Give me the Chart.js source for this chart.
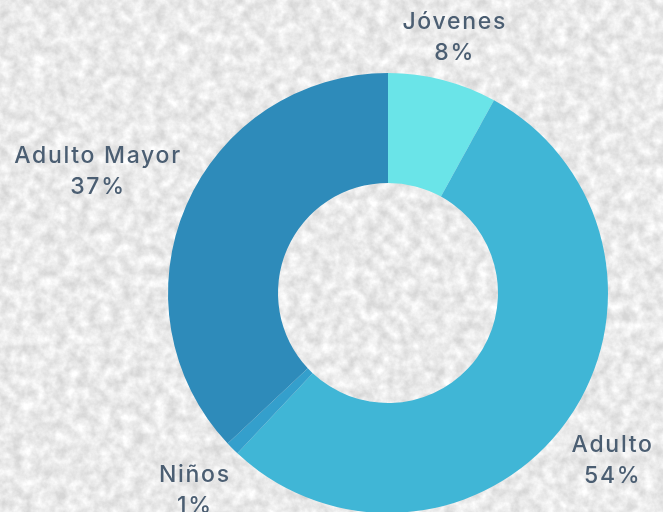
<!DOCTYPE html>
<html>
<head>
<meta charset="utf-8">
<script src="https://cdn.jsdelivr.net/npm/chart.js@4/dist/chart.umd.min.js"></script>
<style>
  html, body { margin: 0; padding: 0; overflow: hidden; width: 663px; height: 512px; }
  body {
    background-color: #e8e8e8;
    background-image: url("data:image/svg+xml;utf8,<svg xmlns='http://www.w3.org/2000/svg' width='663' height='512'><filter id='n'><feTurbulence type='fractalNoise' baseFrequency='0.09' numOctaves='4' seed='3'/><feColorMatrix type='matrix' values='0 0 0 0 1  0 0 0 0 1  0 0 0 0 1  0 0 0 -1.5 1.25'/></filter><rect width='100%' height='100%' fill='%23d6d6d6'/><rect width='100%' height='100%' filter='url(%23n)'/></svg>");
  }
  canvas { display: block; }
</style>
</head>
<body>
<canvas id="pieChart" width="663" height="540"></canvas>
<script>
// age groups, clockwise from the top
const groups = ['Jóvenes', 'Adulto', 'Niños', 'Adulto Mayor'];
const shares = [8, 54, 1, 37];
const sliceColors = ['#6ae4e8', '#40b6d6', '#349fcc', '#2e8bba'];

const textColor = '#4b5e72';
const labelFont = '500 23px Inter, sans-serif';

// draws "name / pct%" outside each slice
const outsideLabels = {
  id: 'outsideLabels',
  afterDatasetsDraw(chart) {
    const ctx = chart.ctx;
    const meta = chart.getDatasetMeta(0);
    ctx.save();
    ctx.font = labelFont;
    ctx.letterSpacing = '1.7px';
    ctx.fillStyle = textColor;
    ctx.textAlign = 'center';
    ctx.textBaseline = 'middle';
    meta.data.forEach((arc, i) => {
      const mid = (arc.startAngle + arc.endAngle) / 2;
      const name = groups[i];
      const pct = shares[i] + '%';
      const w = Math.max(ctx.measureText(name).width, ctx.measureText(pct).width) / 2;
      const h = 28;
      const d = arc.outerRadius + 8 + Math.abs(Math.cos(mid)) * w + Math.abs(Math.sin(mid)) * h;
      const x = arc.x + Math.cos(mid) * d;
      const y = arc.y + Math.sin(mid) * d + 4;
      ctx.fillText(name, x, y - 15);
      ctx.fillText(pct, x, y + 16);
    });
    ctx.restore();
  }
};

new Chart(document.getElementById('pieChart'), {
  type: 'doughnut',
  data: {
    labels: groups,
    datasets: [{
      data: shares,
      backgroundColor: sliceColors,
      borderWidth: 0,
      hoverOffset: 0
    }]
  },
  options: {
    responsive: false,
    animation: false,
    cutout: '50%',
    layout: { padding: { left: 168, right: 55, top: 73, bottom: 27 } },
    plugins: {
      legend: { display: false },
      tooltip: { enabled: false }
    }
  },
  plugins: [outsideLabels]
});
</script>
</body>
</html>
